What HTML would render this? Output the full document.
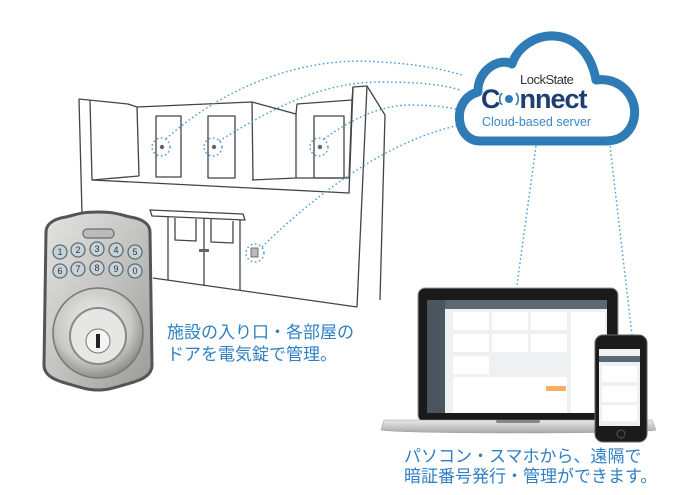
<!DOCTYPE html>
<html><head><meta charset="utf-8"><style>
html,body{margin:0;padding:0;background:#fff;width:685px;height:495px;overflow:hidden}
svg{display:block}
.jp{font-family:"Liberation Sans","Noto Sans CJK JP",sans-serif;fill:#2f7fc4;font-size:17px}
</style></head><body>
<svg width="685" height="495" viewBox="0 0 685 495" xmlns="http://www.w3.org/2000/svg">
<defs>
<linearGradient id="silver" x1="0" y1="0" x2="1" y2="1">
<stop offset="0" stop-color="#e4e4e2"/><stop offset="0.5" stop-color="#c3c3c0"/><stop offset="1" stop-color="#9a9a97"/>
</linearGradient>
<radialGradient id="bolt" cx="0.45" cy="0.4" r="0.6">
<stop offset="0" stop-color="#f2f2f0"/><stop offset="0.7" stop-color="#c8c8c5"/><stop offset="1" stop-color="#8e8e8b"/>
</radialGradient>
<linearGradient id="base" x1="0" y1="0" x2="0" y2="1"><stop offset="0" stop-color="#e9e9e9"/><stop offset="1" stop-color="#a9a9a9"/></linearGradient>
</defs>

<!-- building -->
<g fill="none" stroke="#444" stroke-width="1.3" stroke-linejoin="round">
<path d="M79,99 L128,104 L137,107 L252,102 L296,114 L297,104 L352,100 L353,87 L367,86 L385,115 L380,300"/>
<path d="M79,99 L84,290"/>
<path d="M90,100 L92,180 L349,193 L353,87"/>
<path d="M367,86 L357,307"/>
<path d="M137,107 L139,176"/>
<path d="M252,102 L253,180"/>
<path d="M296,114 L296,178 L252,180"/>
<path d="M139,176 L92,180"/>
<path d="M352,100 L349,178 L296,178"/>
<rect x="156" y="116" width="25" height="61"/>
<rect x="208" y="116" width="27" height="62"/>
<rect x="314" y="116" width="30" height="62"/>
<path d="M153,278 L357,307"/>
<path d="M150,210 L243,214 L245,220 L152,216 Z"/>
<path d="M168,216 L168,280 M240,220 L240,290 M204,218 L204,286"/>
<path d="M175,218 L175,240 L196,241 L196,219 M211,219 L211,242 L233,243 L233,221"/>
</g>
<rect x="251" y="248" width="7" height="9" fill="#bbb" stroke="#555" stroke-width="0.8"/>
<g fill="#666"><circle cx="162" cy="147" r="2.2"/><circle cx="214" cy="147" r="2.2"/><circle cx="320" cy="147" r="2.2"/><rect x="199" y="249" width="10" height="3"/></g>

<!-- dotted connectors -->
<g fill="none" stroke="#4a9ad8" stroke-width="1.4" stroke-dasharray="1.6 2.6">
<circle cx="161" cy="147" r="9"/><circle cx="213" cy="147" r="9"/><circle cx="319" cy="147" r="9"/><circle cx="255" cy="253" r="9"/>
<path d="M166,139 C220,90 300,55 380,62 C420,64 445,70 462,75"/>
<path d="M219,141 C270,110 320,82 380,82 C420,82 445,85 460,90"/>
<path d="M324,139 C350,120 380,105 410,105 C430,105 448,107 460,110"/>
<path d="M262,247 C320,190 390,140 460,125"/>
<path d="M536,146 L517,285"/>
<path d="M610,146 L632,335"/>
</g>

<!-- cloud -->
<path d="M480,141 C456,141 450,100 478,92 C477,70 500,57 512,64 C524,28 585,20 596,80 C624,76 643,104 631,127 C624,139 614,141 604,141 Z" fill="#fff" stroke="#2e7bb5" stroke-width="9" stroke-linejoin="round"/>
<text x="520" y="84" font-family="Liberation Sans,sans-serif" font-size="13" fill="#333" letter-spacing="-0.5">LockState</text>
<text x="481" y="108" font-family="Liberation Sans,sans-serif" font-size="27" font-weight="bold" fill="#1d3e6e" letter-spacing="-1">C<tspan dx="20">nnect</tspan></text>
<circle cx="509" cy="99" r="4" fill="#2e7bb5"/>
<path d="M502,93 A9,9 0 0 0 502,105 M516,93 A9,9 0 0 1 516,105" stroke="#2e7bb5" stroke-width="1.6" fill="none"/>
<text x="482" y="126" font-family="Liberation Sans,sans-serif" font-size="12.5" fill="#3b88c4">Cloud-based server</text>

<!-- keypad lock -->
<path d="M46,232 C46,222 58,218 66,217 C78,214 82,212 98,212 C114,212 118,214 130,217 C138,218 150,222 150,232 L152,365 C152,376 140,380 134,382 C120,386 110,390 98,390 C86,390 76,386 62,382 C56,380 44,376 44,365 Z" fill="url(#silver)" stroke="#555" stroke-width="3"/>
<rect x="83" y="229" width="31" height="9" rx="4" fill="#bbb" stroke="#555"/>
<g fill="#c7d3d8" stroke="#5f6d72" stroke-width="1.3">
<circle cx="60" cy="252" r="7"/><circle cx="78" cy="250" r="7"/><circle cx="97" cy="249" r="7"/><circle cx="116" cy="250" r="7"/><circle cx="135" cy="252" r="7"/>
<circle cx="60" cy="271" r="7"/><circle cx="78" cy="269" r="7"/><circle cx="97" cy="268" r="7"/><circle cx="116" cy="269" r="7"/><circle cx="135" cy="271" r="7"/>
</g>
<g font-family="Liberation Sans,sans-serif" font-size="9" fill="#333" text-anchor="middle">
<text x="60" y="255">1</text><text x="78" y="253">2</text><text x="97" y="252">3</text><text x="116" y="253">4</text><text x="135" y="255">5</text>
<text x="60" y="274">6</text><text x="78" y="272">7</text><text x="97" y="271">8</text><text x="116" y="272">9</text><text x="135" y="274">0</text>
</g>
<circle cx="98" cy="333" r="45" fill="url(#bolt)" stroke="#777" stroke-width="1.5"/>
<circle cx="98" cy="336" r="28" fill="#e6e6e4" stroke="#888" stroke-width="2"/>
<circle cx="98" cy="341" r="12" fill="#f4f4f2" stroke="#777"/>
<path d="M96,334 L100,334 L100,348 L96,348 Z" fill="#222"/>

<text class="jp" x="167" y="338">施設の入り口・各部屋の</text>
<text class="jp" x="167" y="360">ドアを電気錠で管理。</text>

<!-- laptop -->
<rect x="418" y="288" width="200" height="134" rx="7" fill="#1a1a1a" stroke="#999" stroke-width="1"/>
<rect x="427" y="300" width="180" height="113" fill="#eef0f2"/>
<rect x="427" y="300" width="18" height="113" fill="#4a5560"/>
<rect x="445" y="300" width="162" height="9" fill="#5a6874"/>
<g fill="#fff">
<rect x="453" y="312" width="36" height="18"/><rect x="492" y="312" width="36" height="18"/><rect x="531" y="312" width="36" height="18"/>
<rect x="453" y="334" width="36" height="18"/><rect x="492" y="334" width="36" height="18"/><rect x="531" y="334" width="36" height="18"/>
<rect x="453" y="356" width="36" height="18"/>
<rect x="453" y="377" width="114" height="36"/>
<rect x="571" y="312" width="34" height="101"/>
</g>
<rect x="546" y="386" width="20" height="5" fill="#f4b060"/>
<path d="M384,420 L652,420 L656,430 C640,434 400,434 381,430 Z" fill="url(#base)" stroke="#999" stroke-width="0.5"/>
<rect x="496" y="420" width="44" height="3" rx="1.5" fill="#888"/>

<!-- phone -->
<rect x="595" y="335" width="52" height="107" rx="8" fill="#1b1b1b" stroke="#666"/>
<rect x="599" y="349" width="41" height="77" fill="#eef0f2"/>
<rect x="599" y="356" width="41" height="6" fill="#5a6874"/>
<g fill="#fff"><rect x="602" y="366" width="35" height="16"/><rect x="602" y="386" width="35" height="16"/><rect x="602" y="405" width="35" height="16"/></g>
<circle cx="621" cy="434" r="4" fill="none" stroke="#555"/>

<text class="jp" x="404" y="462">パソコン・スマホから、遠隔で</text>
<text class="jp" x="404" y="482">暗証番号発行・管理ができます。</text>
</svg>
</body></html>
